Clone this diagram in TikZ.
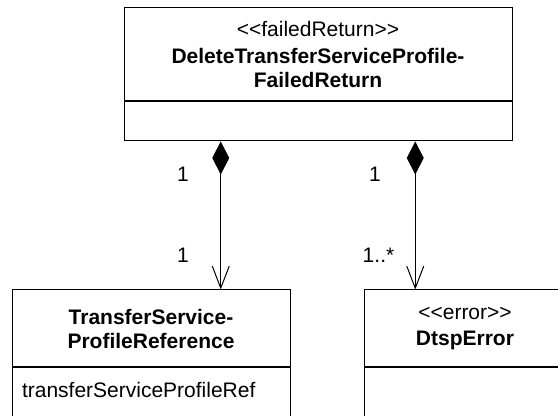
\documentclass[tikz,border=0pt]{standalone}
\usepackage{fontspec}
\newfontfamily\umlfont{Liberation Sans}[Ligatures=TeXOff]
\usetikzlibrary{arrows.meta,positioning,calc}

\begin{document}
\begin{tikzpicture}[x=.75pt,y=-.75pt,cls/.style={draw,line width=.75pt,align=center,inner sep=0pt,font=\umlfont\fontsize{15.75}{18}\selectfont},attr/.style={draw,line width=.75pt,inner ysep=0pt,inner xsep=7.5pt,align=left,font=\umlfont\fontsize{15.75}{18}\selectfont,text height=22.5pt,text depth=40pt},mult/.style={font=\umlfont\fontsize{15.75}{18}\selectfont,inner sep=0pt},comp/.style={{Diamond[length=24.75pt,width=12.75pt]}-{Straight Barb[length=16.5pt,width=12.75pt]},line width=.75pt}]
\useasboundingbox (0,0) rectangle (558,416);
\clip (0,0) rectangle (558,416);
\node[cls,minimum width=291pt,minimum height=69.75pt] (fr) at (318,54.5) {<<failedReturn>>\\[2pt]\textbf{DeleteTransferServiceProfile-}\\\textbf{FailedReturn}};
\node[cls,minimum width=291pt,minimum height=29.25pt,below=0pt of fr] (frattr) {};
\node[cls,minimum width=208.5pt,minimum height=57.75pt] (tspr) at (151,328.5) {\textbf{TransferService-}\\\textbf{ProfileReference}};
\node[attr,text width=193.5pt,below=0pt of tspr] (tsprattr) {transferServiceProfileRef};
\node[cls,minimum width=151.5pt,minimum height=57.75pt] (err) at (465,328.5) {<<error>>\\[2pt]\textbf{DtspError}};
\node[attr,text width=136.5pt,below=0pt of err] (errattr) {};
% composition ends at the quarters of the owner box
\coordinate (c1) at ($(frattr.south west)!.25!(frattr.south east)$);
\coordinate (c2) at ($(frattr.south west)!.75!(frattr.south east)$);
\draw[comp] (c1) -- (c1 |- tspr.north);
\draw[comp] (c2) -- (c2 |- err.north);
\node[mult] (m1) at (183,174) {1};
\node[mult] (m2) at (375,174) {1};
\node[mult] (m3) at (183,255) {1};
\node[mult] (m4) at (378.5,255) {1..*};
\end{tikzpicture}
\end{document}
